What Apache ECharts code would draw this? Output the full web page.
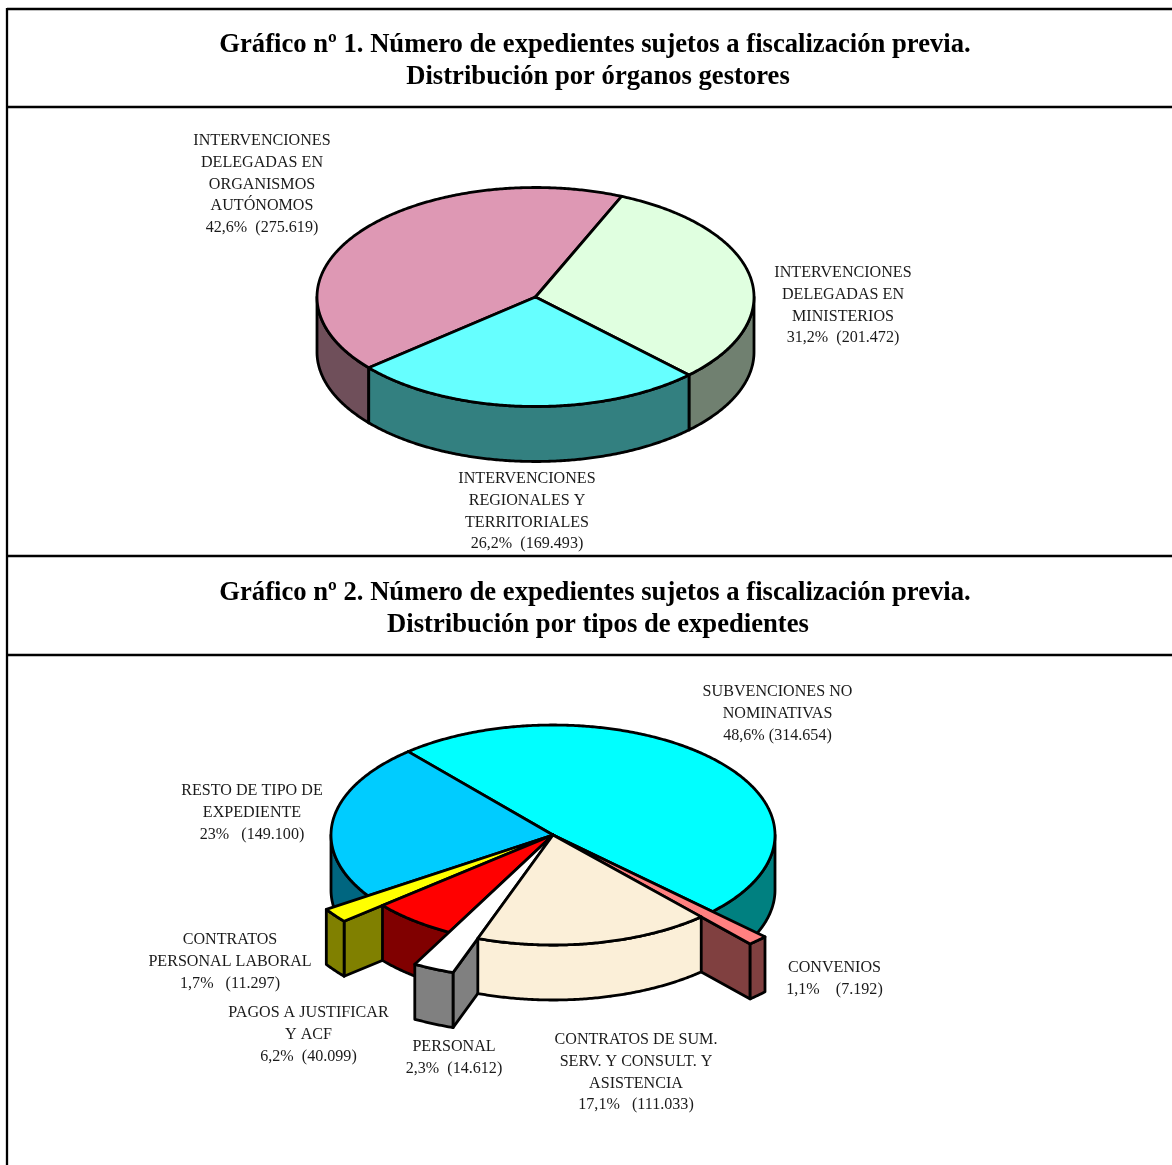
<!DOCTYPE html>
<html><head><meta charset="utf-8">
<style>html,body{margin:0;padding:0;background:#fff}#c{width:1172px;height:1165px}</style>
<script src="https://cdn.jsdelivr.net/npm/echarts@6/dist/echarts.min.js"></script>
</head><body><div id="c"></div>
<script>
// ---- data ----
const titles1 = ['Gráfico nº 1. Número de expedientes sujetos a fiscalización previa.', 'Distribución por órganos gestores'];
const titles2 = ['Gráfico nº 2. Número de expedientes sujetos a fiscalización previa.', 'Distribución por tipos de expedientes'];

const categories1 = ['INTERVENCIONES\nDELEGADAS EN\nMINISTERIOS', 'INTERVENCIONES\nREGIONALES Y\nTERRITORIALES', 'INTERVENCIONES\nDELEGADAS EN\nORGANISMOS\nAUTÓNOMOS'];
const values1 = [201472, 169493, 275619];
const valueLabels1 = ['31,2%  (201.472)', '26,2%  (169.493)', '42,6%  (275.619)'];

const categories2 = ['SUBVENCIONES NO\nNOMINATIVAS', 'CONVENIOS', 'CONTRATOS DE SUM.\nSERV. Y CONSULT. Y\nASISTENCIA', 'PERSONAL', 'PAGOS A JUSTIFICAR\nY ACF', 'CONTRATOS\nPERSONAL LABORAL', 'RESTO DE TIPO DE\nEXPEDIENTE'];
const values2 = [314654, 7192, 111033, 14612, 40099, 11297, 149100];
const valueLabels2 = ['48,6% (314.654)', '1,1%    (7.192)', '17,1%   (111.033)', '2,3%  (14.612)', '6,2%  (40.099)', '1,7%   (11.297)', '23%   (149.100)'];

// ---- styling and layout ----
const FONT = '"Liberation Serif","Times New Roman",serif';
const LINE = 2.8;
const pie1 = {
  cx: 535.5, cy: 297, rx: 218.5, ry: 109.5, depth: 55, start: 66.8,
  explode: [1, 1, 1],
  top: ['#E0FFE0', '#66FFFF', '#DE98B4'],
  side: ['#708070', '#338080', '#6F4F5A'],
  order: [2, 0, 1],
  labelAt: [[843, 262], [527, 468], [262, 130]]
};
const pie2 = {
  cx: 553, cy: 835, rx: 222, ry: 110, depth: 55, start: 130.7,
  explode: [1, 1.33, 1, 1.33, 1, 1.225, 1],
  top: ['#00FFFF', '#FF8080', '#FBEFD8', '#FFFFFF', '#FF0000', '#FFFF00', '#00CCFF'],
  side: ['#008080', '#804040', '#FBEFD8', '#808080', '#800000', '#808000', '#006680'],
  order: [0, 6, 5, 4, 3, 1, 2],
  labelAt: [[777.5, 681], [834.5, 957], [636, 1029], [454, 1036], [308.5, 1002], [230, 929], [252, 780]]
};

function pieSeries(pie, categories, values, valueLabels) {
  const total = values.reduce((a, b) => a + b, 0);
  const starts = [];
  let run = pie.start;
  values.forEach(v => { starts.push(run); run -= v / total * 360; });
  const pt = (r, deg, dz) => {
    const t = deg * Math.PI / 180;
    return [pie.cx + pie.rx * r * Math.cos(t), pie.cy - pie.ry * r * Math.sin(t) + (dz || 0)];
  };
  const arc = (r, a, b, dz) => {
    const out = [], n = Math.max(2, Math.ceil(Math.abs(a - b) * 2));
    for (let i = 0; i <= n; i++) out.push(pt(r, a + (b - a) * i / n, dz));
    return out;
  };
  const poly = (points, fill, z2) => ({
    type: 'polygon', z2, shape: { points },
    style: { fill, stroke: '#000', lineWidth: LINE, lineJoin: 'round' }
  });
  return {
    type: 'custom', coordinateSystem: 'none', silent: true, animation: false,
    data: values,
    renderItem(params, api) {
      const i = params.dataIndex, v = api.value(0);
      const a0 = starts[i], a1 = a0 - v / total * 360, r = pie.explode[i];
      const z = pie.order.indexOf(i) * 10 + 1, kids = [];
      const cosD = d => Math.cos(d * Math.PI / 180);
      const face = a => poly([pt(0, a), pt(r, a), pt(r, a, pie.depth), pt(0, a, pie.depth)], pie.side[i], z);
      if (cosD(a0) < 0) kids.push(face(a0));
      if (cosD(a1) > 0) kids.push(face(a1));
      // the outer wall shows only on the front half of the ellipse (angles -180..0)
      for (let k = -1; k <= 1; k++) {
        const hi = Math.min(a0, k * 360), lo = Math.max(a1, k * 360 - 180);
        if (hi > lo) {
          const upper = arc(r, hi, lo), lower = arc(r, lo, hi, pie.depth);
          kids.push(poly(upper.concat(lower), pie.side[i], z + 1));
        }
      }
      kids.push(poly([pt(0, a0)].concat(arc(r, a0, a1)), pie.top[i], z + 2));
      kids.push({
        type: 'text', z2: 500,
        style: {
          x: pie.labelAt[i][0], y: pie.labelAt[i][1],
          text: categories[i] + '\n' + valueLabels[i],
          align: 'center', verticalAlign: 'top',
          font: '16.1px ' + FONT, lineHeight: 21.75, fill: '#1a1a1a'
        }
      });
      return { type: 'group', children: kids };
    }
  };
}

const titleAt = [[595, 31], [598, 63], [595, 579], [598, 611]];
const titleText = titles1.concat(titles2);
const frameY = [9, 107, 556, 655];

const chart = echarts.init(document.getElementById('c'), null, { width: 1172, height: 1165 });
chart.setOption({
  backgroundColor: '#fff',
  animation: false,
  title: titleText.map((t, i) => ({
    text: t, left: titleAt[i][0], top: titleAt[i][1], textAlign: 'center', padding: 0,
    textStyle: { fontFamily: FONT, fontWeight: 'bold', fontSize: 26.65, color: '#000', lineHeight: 28 }
  })),
  graphic: frameY.map(y => ({
    type: 'line', silent: true,
    shape: { x1: 7, y1: y, x2: 1172, y2: y }, style: { stroke: '#000', lineWidth: 2.3 }
  })).concat([{
    type: 'line', silent: true,
    shape: { x1: 7, y1: 8, x2: 7, y2: 1165 }, style: { stroke: '#000', lineWidth: 2.3 }
  }]),
  series: [
    pieSeries(pie1, categories1, values1, valueLabels1),
    pieSeries(pie2, categories2, values2, valueLabels2)
  ]
});
</script></body></html>
